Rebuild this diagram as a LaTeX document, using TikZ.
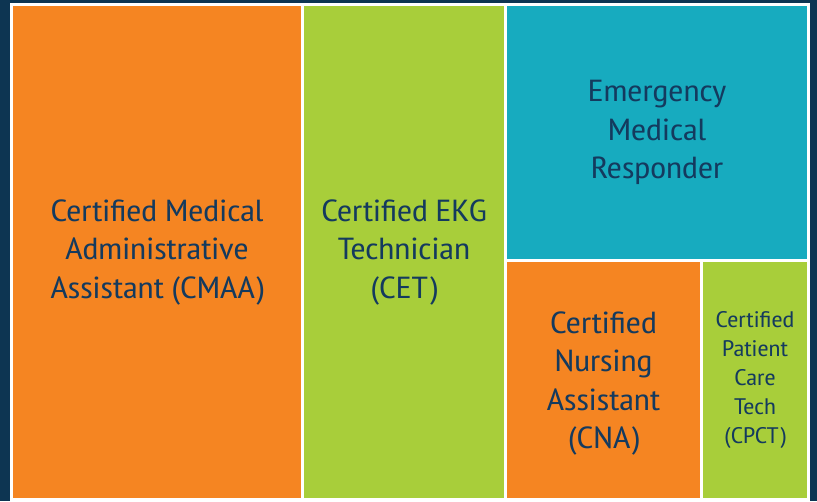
\documentclass[tikz,border=0pt]{standalone}
\usepackage{fontspec}
\setmainfont{PT Sans Narrow}[FakeStretch=1.2]
\definecolor{bgnavy}{HTML}{0D3552}
\definecolor{txtnavy}{HTML}{143A5E}
\definecolor{tmorange}{HTML}{F58522}
\definecolor{tmgreen}{HTML}{A8CE3A}
\definecolor{tmteal}{HTML}{17ABBF}

\begin{document}
\begin{tikzpicture}[x=1pt,y=-1pt,
  cell/.style={draw=none, inner sep=0pt, outer sep=0pt, align=center,
    text=txtnavy, font=\fontsize{30.5}{38.5}\selectfont},
  smallcell/.style={cell, font=\fontsize{22.5}{29}\selectfont}]
% 背景与白色边框
\fill[bgnavy] (0,0) rectangle (817,501);
\fill[white] (10,3) rectangle (810,501);
% 各个方块
\node[cell, fill=tmorange, minimum width=288pt, minimum height=492pt] (cmaa) at (157,252) {Certified Medical\\Administrative\\Assistant (CMAA)};
\node[cell, fill=tmgreen, minimum width=200pt, minimum height=492pt] (cet) at (404,252) {Certified EKG\\Technician\\(CET)};
\node[cell, fill=tmteal, minimum width=300pt, minimum height=253pt] (emr) at (657,132.5) {Emergency\\Medical\\Responder};
\node[cell, fill=tmorange, minimum width=193pt, minimum height=236pt] (cna) at (603.5,380) {};
\node[cell] (cnatext) at (603.5,383.5) {Certified\\Nursing\\Assistant\\(CNA)};
\node[smallcell, fill=tmgreen, minimum width=104pt, minimum height=236pt] (cpct) at (755,380) {Certified\\Patient\\Care\\Tech\\(CPCT)};
\end{tikzpicture}
\end{document}
